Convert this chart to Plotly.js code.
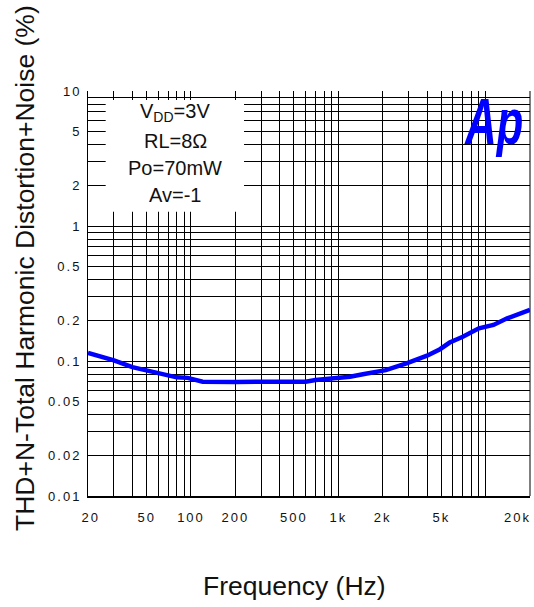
<!DOCTYPE html>
<html>
<head>
<meta charset="utf-8">
<script src="https://cdn.plot.ly/plotly-3.0.1.min.js"></script>
<style>
  html, body { margin: 0; padding: 0; background: #fff; }
  #chart { width: 534px; height: 607px; }
  .xtick text, .ytick text { letter-spacing: 2px; }
</style>
</head>
<body>
<div id="chart"></div>
<script>
// Measured curve: THD+N (%) vs frequency (Hz)
const freqHz = [20, 30, 40, 50, 60, 80, 95, 120, 200, 300, 400, 600, 700, 1000, 1200, 1500, 2100, 2900, 4000, 4900, 5700, 7000, 9000, 11300, 14000, 20000];
const thdN   = [0.115, 0.101, 0.09, 0.085, 0.08, 0.0757, 0.075, 0.0703, 0.07, 0.07, 0.07, 0.0703, 0.0722, 0.0752, 0.0765, 0.080, 0.0856, 0.0962, 0.1094, 0.1223, 0.137, 0.151, 0.1745, 0.185, 0.207, 0.239];

// Axis grid positions and labels
const xGridVals = [20, 30, 40, 50, 60, 70, 80, 90, 100, 200, 300, 400, 500, 600, 700, 800, 900, 1000, 2000, 3000, 4000, 5000, 6000, 7000, 8000, 9000, 10000, 20000];
const xLabels   = ['20', '', '', '50', '', '', '', '', '100', '200', '', '', '500', '', '', '', '', '1k', '2k', '', '', '5k', '', '', '', '', '', '20k'];
const yGridVals = [0.01, 0.02, 0.03, 0.04, 0.05, 0.06, 0.07, 0.08, 0.09, 0.1, 0.2, 0.3, 0.4, 0.5, 0.6, 0.7, 0.8, 0.9, 1, 2, 3, 4, 5, 6, 7, 8, 9, 10];
const yLabels   = ['0.01', '0.02', '', '', '0.05', '', '', '', '', '0.1', '0.2', '', '', '0.5', '', '', '', '', '1', '2', '', '', '5', '', '', '', '', '10'];

// Conditions box text
const conditionLines = ['V<sub>DD</sub>=3V', 'RL=8Ω', 'Po=70mW', 'Av=-1'];
const xTitle = 'Frequency (Hz)';
const yTitle = 'THD+N-Total Harmonic Distortion+Noise (%)';
const logoText = 'Ap';

const FONT = 'Arial, "Liberation Sans", Helvetica, sans-serif';
const NB = '\u00a0';
const LAST = xLabels.length - 1;

// the last label (20k) sits flush with the right edge, so it is drawn right-aligned separately
const xLabelsShown = xLabels.map((t, i) => i === LAST ? '' : (i === 0 ? NB + t : t));

const trace = {
  x: freqHz, y: thdN, type: 'scatter', mode: 'lines',
  line: { color: '#0000ff', width: 4.5 },
  hoverinfo: 'skip'
};

const condY = [0.946, 0.877, 0.81, 0.743];
const annotations = conditionLines.map((t, i) => ({
  xref: 'paper', yref: 'paper', x: 0.197, y: condY[i],
  xanchor: 'center', yanchor: 'middle', showarrow: false,
  text: t, font: { family: FONT, size: 20, color: '#111' }
}));
annotations.push({
  xref: 'paper', yref: 'paper', x: -0.1425, y: 0.563,
  xanchor: 'center', yanchor: 'middle', showarrow: false, textangle: -90,
  text: yTitle, font: { family: FONT, size: 26.5, color: '#111' }
});
annotations.push({
  xref: 'paper', yref: 'paper', x: 0.468, y: -0.222,
  xanchor: 'center', yanchor: 'middle', showarrow: false,
  text: xTitle, font: { family: FONT, size: 26.5, color: '#111' }
});
const LAST_LABEL_INDEX = annotations.length;
annotations.push({
  xref: 'paper', yref: 'paper', x: 1, y: -0.0543,
  xanchor: 'right', yanchor: 'middle', showarrow: false,
  text: xLabels[LAST], font: { family: FONT, size: 13, color: '#111' }
});
const LOGO_INDEX = annotations.length;
annotations.push({
  xref: 'paper', yref: 'paper', x: 0.917, y: 0.923,
  xanchor: 'center', yanchor: 'middle', showarrow: false,
  text: '<b><i>' + logoText + '</i></b>',
  font: { family: FONT, size: 64, color: '#0000ff' }
});

const layout = {
  width: 534, height: 607,
  margin: { l: 88, r: 4, t: 91, b: 111, pad: 0 },
  paper_bgcolor: '#fff', plot_bgcolor: '#fff',
  showlegend: false,
  xaxis: {
    type: 'log', range: [Math.log10(20) - 1e-5, Math.log10(20000) + 1e-5],
    tickmode: 'array', tickvals: xGridVals, ticktext: xLabelsShown,
    showgrid: true, gridcolor: '#000', gridwidth: 1,
    zeroline: false, showline: true, linecolor: '#000', linewidth: 2,
    ticks: '', ticklabelstandoff: 8, automargin: false,
    tickfont: { family: FONT, size: 13, color: '#111' }
  },
  yaxis: {
    type: 'log', range: [-2 - 1e-5, 1 + 1e-5],
    tickmode: 'array', tickvals: yGridVals, ticktext: yLabels,
    showgrid: true, gridcolor: '#000', gridwidth: 1,
    zeroline: false, showline: true, linecolor: '#000', linewidth: 1,
    ticks: '', ticklabelstandoff: 3, automargin: false, ticklabeloverflow: 'allow',
    tickfont: { family: FONT, size: 13, color: '#111' }
  },
  shapes: [{
    type: 'rect', xref: 'paper', yref: 'paper',
    x0: 0.04, x1: 0.353, y0: 0.702, y1: 0.978,
    fillcolor: '#fff', line: { width: 0 }, layer: 'above'
  }, {
    // right frame line at 20 kHz
    type: 'line', xref: 'paper', yref: 'paper',
    x0: 1, x1: 1, y0: 0, y1: 1,
    line: { color: '#555', width: 1.5 }, layer: 'below'
  }],
  annotations: annotations
};

Plotly.newPlot('chart', [trace], layout, { displayModeBar: false, staticPlot: true }).then(() => {
  const anns = document.querySelectorAll('#chart .annotation');
  // condense the logo horizontally (narrow bold italic lettering)
  const logo = anns[LOGO_INDEX] && anns[LOGO_INDEX].querySelector('text');
  if (logo) {
    logo.style.transformBox = 'fill-box';
    logo.style.transformOrigin = 'center';
    logo.style.transform = 'scaleX(0.68)';
  }
  // match the spaced-out tick lettering on the separately drawn 20k label
  const lastLbl = anns[LAST_LABEL_INDEX] && anns[LAST_LABEL_INDEX].querySelector('text');
  if (lastLbl) {
    lastLbl.style.letterSpacing = '2px';
  }
});
</script>
</body>
</html>
